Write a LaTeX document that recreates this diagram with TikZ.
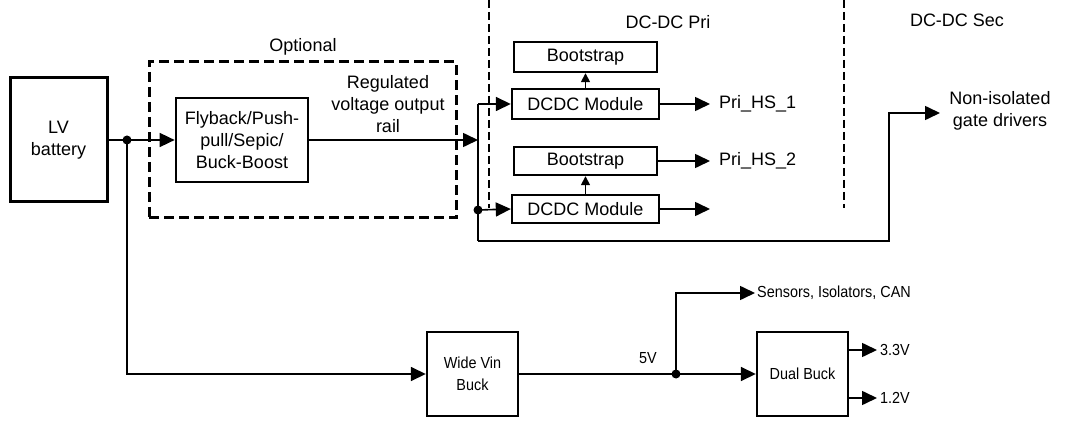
\documentclass[tikz,border=0pt]{standalone}
\usepackage{fontspec}
\setmainfont{Liberation Sans}
\newfontfamily\narrowsans[FakeStretch=0.9]{Liberation Sans}
\usetikzlibrary{arrows.meta,calc}

\tikzset{
  blk/.style={draw, line width=2.4pt, align=center, inner sep=0pt,
              font=\fontsize{18}{22}\selectfont},
  blks/.style={draw, line width=2.4pt, align=center, inner sep=0pt,
              font=\narrowsans\fontsize{16}{22}\selectfont},
  txt/.style={align=center, inner sep=0pt, font=\fontsize{18}{22}\selectfont},
  txts/.style={align=center, inner sep=0pt, font=\narrowsans\fontsize{16}{22}\selectfont},
  wire/.style={line width=1.6pt},
  arr/.style={wire, -{Triangle[length=15pt,width=14pt]}},
  sarr/.style={wire, -{Triangle[length=9pt,width=9pt]}},
  dot/.style={circle, fill, inner sep=0pt, minimum size=9pt},
  optframe/.style={draw, line width=3pt, dash pattern=on 10pt off 5pt},
  divider/.style={line width=1.2pt, dash pattern=on 8pt off 4pt}
}

\begin{document}
\begin{tikzpicture}[x=1pt,y=-1pt]
\useasboundingbox (0,0) rectangle (1085,422);

% ---------- input side ----------
\node[blk, line width=3pt, minimum width=97pt, minimum height=124pt] (lv) at (58.5,140) {LV\\battery};
\node[optframe, minimum width=307pt, minimum height=156pt] (opt) at (302.5,140) {};
\node[txt] (optlbl) at (303,47) {Optional};
\node[blk, line width=2.7pt, minimum width=132pt, minimum height=84pt] (fly) at (242,140) {Flyback/Push-\\pull/Sepic/\\Buck-Boost};
\node[txt] (reg) at (388,104) {Regulated\\voltage output\\rail};

\coordinate (j1) at (127,140);
\node[dot] at (j1) {};
\draw[arr] (lv.east) -- (fly.west);

% ---------- primary-side bus ----------
\coordinate (busT) at (478,104);
\coordinate (busM) at (478,140);
\coordinate (busD) at (478,210);
\coordinate (busB) at (478,241);
\draw[arr] (fly.east) -- (busM);
\draw[wire] (busT) -- (busB);
\node[dot] at (busD) {};

% ---------- section dividers and titles ----------
\coordinate (d1t) at (489,0);  \coordinate (d1b) at (489,208);
\coordinate (d2t) at (844,0);  \coordinate (d2b) at (844,208);
\draw[divider] (d1t) -- (d1b);
\draw[divider] (d2t) -- (d2b);
\node[txt] (pri) at (668,22) {DC-DC Pri};
\node[txt] (sec) at (957,20) {DC-DC Sec};

% ---------- DC-DC primary blocks ----------
\node[blk, minimum width=143pt, minimum height=30pt] (bs1) at (585.5,57) {Bootstrap};
\node[blk, minimum width=147pt, minimum height=30pt] (dc1) at (585.5,104) {DCDC Module};
\node[blk, minimum width=143pt, minimum height=28pt] (bs2) at (585.5,161) {Bootstrap};
\node[blk, minimum width=147pt, minimum height=28pt] (dc2) at (585.5,209) {DCDC Module};

\draw[sarr] (dc1.north) -- (bs1.south);
\draw[sarr] (dc2.north) -- (bs2.south);
\draw[arr] (busT) -- (dc1.west);
\draw[arr] (busD) -- (dc2.west);

\node[txt, anchor=west, inner xsep=9pt] (hs1) at (710,104) {Pri\_HS\_1};
\node[txt, anchor=west, inner xsep=9pt] (hs2) at (710,161) {Pri\_HS\_2};
\coordinate (o2) at (710,209);
\draw[arr] (dc1.east) -- (hs1.west);
\draw[arr] (bs2.east) -- (hs2.west);
\draw[arr] (dc2.east) -- (o2);

% ---------- non-isolated gate drivers ----------
\node[txt] (ngd) at (1000,111) {Non-isolated\\gate drivers};
\coordinate (gdturn) at (889,241);
\coordinate (gdin) at (940,113);
\draw[arr] (busB) -- (gdturn) |- (gdin);

% ---------- auxiliary supplies ----------
\node[blks, minimum width=91pt, minimum height=84pt] (wvb) at (472.5,374) {Wide Vin\\Buck};
\node[blks, minimum width=91pt, minimum height=84pt] (db) at (802.5,374) {Dual Buck};
\draw[arr] (j1) |- (wvb.west);

\coordinate (j5) at (676,374);
\node[dot] at (j5) {};
\node[txts] (v5) at (648,358) {5V};
\draw[wire] (wvb.east) -- (j5);
\draw[arr] (j5) -- (db.west);

\node[txts, anchor=west, inner xsep=2pt] (sens) at (755,293) {Sensors, Isolators, CAN};
\draw[arr] (j5) |- (sens.west);

\node[txts, anchor=west, inner xsep=3pt] (v33) at (877,350) {3.3V};
\node[txts, anchor=west, inner xsep=3pt] (v12) at (877,398) {1.2V};
\draw[arr] ([yshift=24pt]db.east) -- (v33.west);
\draw[arr] ([yshift=-24pt]db.east) -- (v12.west);
\end{tikzpicture}
\end{document}
